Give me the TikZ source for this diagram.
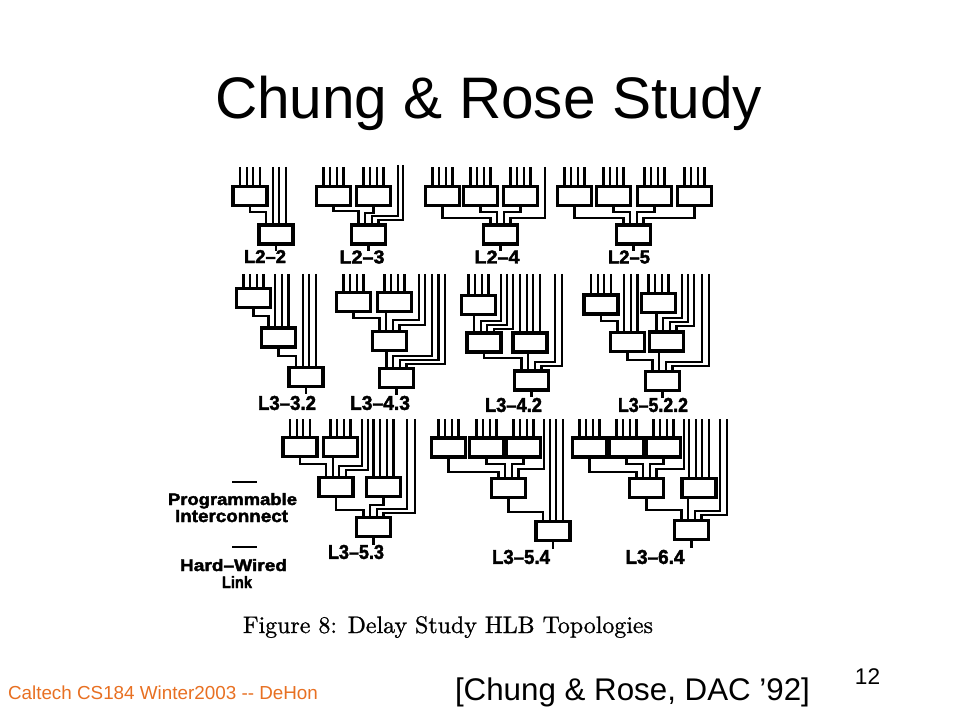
\documentclass[tikz,border=0pt]{standalone}
\usepackage{fontspec}
\usepackage{graphicx}
\newfontfamily\arial{Liberation Sans}
\newfontfamily\heavy{Liberation Sans}[BoldFeatures={FakeBold=2.2}]
\newfontfamily\capfont{lmroman10-regular}[Extension=.otf, FakeBold=0.9]
\newlength\mypx \setlength\mypx{0.75pt}
\definecolor{footorange}{RGB}{232,112,34}
\tikzset{
  lut/.style={draw=black, line width=2.6pt, minimum width=25.5pt, minimum height=14.25pt,
              inner sep=0pt, outer sep=0pt, fill=white},
  wire/.style={draw=black, line width=1.7pt, line cap=butt, line join=miter},
  txt/.style={inner sep=0pt, outer sep=0pt},
}
% box with four input stubs going up to y=#4
\newcommand\lutin[4]{%
  \node[lut] (#1) at (#2,#3) {};
  \foreach \dd in {-10,-3.33,3.33,10}{\draw[wire] (#1.north -| {#2+\dd},0) -- ({#2+\dd},#4);}%
}
\newcommand\lutbox[3]{\node[lut] (#1) at (#2,#3) {};}
% label: name, x, y, width px, height px, text
\newcommand\lab[6]{\node[txt] (#1) at (#2,#3) {\resizebox{#4\mypx}{#5\mypx}{\heavy\bfseries #6}};}
\begin{document}
\begin{tikzpicture}[x=0.75pt,y=-0.75pt]
\useasboundingbox (0,0) rectangle (960,720);
\fill[white] (0,0) rectangle (960,720);

% ---------- title ----------
\node[txt,anchor=base] (title) at (488.5,119)
  {\resizebox{547\mypx}{!}{\arial\fontsize{44}{50}\selectfont Chung \& Rose Study}};

% ================= ROW 1 =================
% L2-2
\lutin{a1}{250}{196}{167}
\lutbox{b1}{276}{234.5}
\draw[wire] (a1.south) |- (266,212) -- (266,0 |- b1.north);
\foreach \xx in {272.7,279.3,286}{\draw[wire] (\xx,167) -- (\xx,0 |- b1.north);}
\draw[wire] (b1.south) -- ++(0,7);
\lab{l1}{265}{256.5}{42}{13}{L2–2}

% L2-3
\lutin{a2}{333.5}{196}{167}
\lutin{c2}{373.5}{196}{167}
\lutbox{b2}{368.5}{234.5}
\draw[wire] (a2.south) |- (358.5,211) -- (358.5,0 |- b2.north);
\draw[wire] (c2.south) |- (365.2,213) -- (365.2,0 |- b2.north);
\draw[wire] (398,165) |- (371.8,216) -- (371.8,0 |- b2.north);
\draw[wire] (403,165) |- (378.5,220) -- (378.5,0 |- b2.north);
\draw[wire] (b2.south) -- ++(0,7);
\lab{l2}{362}{257}{45}{13}{L2–3}

% L2-4
\lutin{a3}{442.5}{196}{167}
\lutin{c3}{480.5}{196}{167}
\lutin{d3}{520.5}{196}{167}
\lutbox{b3}{500.5}{234.5}
\draw[wire] (a3.south) |- (490.5,218) -- (490.5,0 |- b3.north);
\draw[wire] (c3.south) |- (497.2,212) -- (497.2,0 |- b3.north);
\draw[wire] (d3.south) |- (503.8,212) -- (503.8,0 |- b3.north);
\draw[wire] (545,167) |- (510.5,218) -- (510.5,0 |- b3.north);
\draw[wire] (b3.south) -- ++(0,7);
\lab{l3}{497}{257}{45}{13}{L2–4}

% L2-5
\lutin{a4}{574.5}{196}{167}
\lutin{c4}{613.5}{196}{167}
\lutin{d4}{654.5}{196}{167}
\lutin{e4}{694.5}{196}{167}
\lutbox{b4}{633.5}{234.5}
\draw[wire] (a4.south) |- (623.5,218) -- (623.5,0 |- b4.north);
\draw[wire] (c4.south) |- (630.2,212) -- (630.2,0 |- b4.north);
\draw[wire] (d4.south) |- (636.8,212) -- (636.8,0 |- b4.north);
\draw[wire] (e4.south) |- (643.5,218) -- (643.5,0 |- b4.north);
\draw[wire] (b4.south) -- ++(0,7);
\lab{l4}{629}{257}{42}{13}{L2–5}

% ================= ROW 2 =================
% L3-3.2
\lutin{a5}{253.5}{298}{274}
\lutbox{b5}{278.5}{337.5}
\lutbox{c5}{306}{377}
\draw[wire] (a5.south) |- (268.5,316) -- (268.5,0 |- b5.north);
\foreach \xx in {275.2,281.8,288.5}{\draw[wire] (\xx,274) -- (\xx,0 |- b5.north);}
\draw[wire] (b5.south) |- (296,356) -- (296,0 |- c5.north);
\foreach \xx in {302.7,309.3,316}{\draw[wire] (\xx,274) -- (\xx,0 |- c5.north);}
\draw[wire] (c5.south) -- ++(0,7);
\lab{l5}{287}{403}{58}{14}{L3–3.2}

% L3-4.3
\lutin{a6}{353.5}{302}{274}
\lutin{c6}{394.5}{302}{274}
\lutbox{m6}{389.5}{341}
\lutbox{d6}{396.5}{378}
\draw[wire] (a6.south) |- (379.5,318) -- (379.5,0 |- m6.north);
\draw[wire] (386.2,0 |- c6.south) -- (386.2,0 |- m6.north);
\draw[wire] (419,274) |- (392.8,320) -- (392.8,0 |- m6.north);
\draw[wire] (425,274) |- (399.5,325) -- (399.5,0 |- m6.north);
\draw[wire] (386.5,0 |- m6.south) -- (386.5,0 |- d6.north);
\draw[wire] (432,274) |- (393.2,356) -- (393.2,0 |- d6.north);
\draw[wire] (438.5,274) |- (399.8,360) -- (399.8,0 |- d6.north);
\draw[wire] (445,274) |- (406.5,364) -- (406.5,0 |- d6.north);
\draw[wire] (d6.south) -- ++(0,7);
\lab{l6}{380}{403}{60}{14}{L3–4.3}

% L3-4.2
\lutin{a7}{478.5}{305}{274}
\lutbox{m7}{484}{342.5}
\lutin{c7}{530}{342.5}{274}
\lutbox{d7}{531.5}{380.5}
\draw[wire] (474,0 |- a7.south) -- (474,0 |- m7.north);
\draw[wire] (501,274) |- (480.7,321) -- (480.7,0 |- m7.north);
\draw[wire] (507,274) |- (487.3,325) -- (487.3,0 |- m7.north);
\draw[wire] (513,274) |- (494,329) -- (494,0 |- m7.north);
\draw[wire] (m7.south) |- (521.5,358) -- (521.5,0 |- d7.north);
\draw[wire] (528.2,0 |- c7.south) -- (528.2,0 |- d7.north);
\draw[wire] (555,274) |- (534.8,362) -- (534.8,0 |- d7.north);
\draw[wire] (562,274) |- (541.5,366) -- (541.5,0 |- d7.north);
\draw[wire] (d7.south) -- ++(0,7);
\lab{l7}{513.5}{405}{57}{14}{L3–4.2}

% L3-5.2.2
\lutin{a8}{601}{304.5}{274}
\lutbox{m8}{627.5}{342}
\lutin{c8}{658.5}{303}{274}
\lutbox{n8}{666.5}{341.5}
\lutbox{d8}{662.5}{381}
\draw[wire] (a8.south) |- (617.5,321) -- (617.5,0 |- m8.north);
\foreach \xx in {624.2,630.8,637.5}{\draw[wire] (\xx,274) -- (\xx,0 |- m8.north);}
\draw[wire] (656.5,0 |- c8.south) -- (656.5,0 |- n8.north);
\draw[wire] (682,274) |- (663.2,318) -- (663.2,0 |- n8.north);
\draw[wire] (688,274) |- (669.8,322) -- (669.8,0 |- n8.north);
\draw[wire] (694,274) |- (676.5,326) -- (676.5,0 |- n8.north);
\draw[wire] (m8.south) |- (652.5,360) -- (652.5,0 |- d8.north);
\draw[wire] (659.2,0 |- n8.south) -- (659.2,0 |- d8.north);
\draw[wire] (702,274) |- (665.8,362) -- (665.8,0 |- d8.north);
\draw[wire] (709,274) |- (672.5,366) -- (672.5,0 |- d8.north);
\draw[wire] (d8.south) -- ++(0,7);
\lab{l8}{653}{405}{70}{14}{L3–5.2.2}

% ================= ROW 3 =================
% L3-5.3
\lutin{a9}{300}{447}{419}
\lutin{c9}{340.5}{447}{419}
\lutbox{m9}{336}{487}
\lutin{n9}{383.5}{487}{419}
\lutbox{d9}{373.5}{527}
\draw[wire] (a9.south) |- (326,464) -- (326,0 |- m9.north);
\draw[wire] (332.7,0 |- c9.south) -- (332.7,0 |- m9.north);
\draw[wire] (362,419) |- (339.3,466) -- (339.3,0 |- m9.north);
\draw[wire] (368,419) |- (346,470) -- (346,0 |- m9.north);
\draw[wire] (m9.south) |- (363.5,510) -- (363.5,0 |- d9.north);
\draw[wire] (n9.south) |- (370.2,505) -- (370.2,0 |- d9.north);
\draw[wire] (407,419) |- (376.8,509) -- (376.8,0 |- d9.north);
\draw[wire] (415,419) |- (383.5,513) -- (383.5,0 |- d9.north);
\draw[wire] (d9.south) -- ++(0,8);
\lab{l9}{356}{552}{56}{14}{L3–5.3}

% L3-5.4
\lutin{a10}{448.5}{447.5}{419}
\lutin{c10}{486.5}{447.5}{419}
\lutin{e10}{523.5}{447.5}{419}
\lutbox{m10}{508.5}{488}
\lutbox{d10}{553}{531}
\draw[wire] (a10.south) |- (498.5,472) -- (498.5,0 |- m10.north);
\draw[wire] (c10.south) |- (505.2,464) -- (505.2,0 |- m10.north);
\draw[wire] (e10.south) |- (511.8,464) -- (511.8,0 |- m10.north);
\draw[wire] (544,419) |- (518.5,469) -- (518.5,0 |- m10.north);
\draw[wire] (m10.south) |- (543,512) -- (543,0 |- d10.north);
\foreach \xx in {549.7,556.3,563}{\draw[wire] (\xx,419) -- (\xx,0 |- d10.north);}
\draw[wire] (d10.south) -- ++(0,8);
\lab{l10}{521}{557}{58}{14}{L3–5.4}

% L3-6.4
\lutin{a11}{589.5}{447.5}{419}
\lutin{c11}{626.5}{447.5}{419}
\lutin{e11}{663.5}{447.5}{419}
\lutbox{m11}{646.5}{488}
\lutin{n11}{699}{488}{419}
\lutbox{d11}{691.5}{530}
\draw[wire] (a11.south) |- (636.5,472) -- (636.5,0 |- m11.north);
\draw[wire] (c11.south) |- (643.2,464) -- (643.2,0 |- m11.north);
\draw[wire] (e11.south) |- (649.8,464) -- (649.8,0 |- m11.north);
\draw[wire] (684,419) |- (656.5,469) -- (656.5,0 |- m11.north);
\draw[wire] (m11.south) |- (681.5,510) -- (681.5,0 |- d11.north);
\draw[wire] (688.2,0 |- n11.south) -- (688.2,0 |- d11.north);
\draw[wire] (720,419) |- (694.8,511) -- (694.8,0 |- d11.north);
\draw[wire] (727,419) |- (701.5,515) -- (701.5,0 |- d11.north);
\draw[wire] (d11.south) -- ++(0,8);
\lab{l11}{655}{557}{59}{14}{L3–6.4}

% ---------- legend ----------
\coordinate (pg1) at (232,482); \coordinate (pg2) at (257,482);
\draw[line width=0.8pt] (pg1) -- (pg2);
\node[txt,anchor=base] (lg1) at (232.5,505) {\resizebox{129\mypx}{12\mypx}{\heavy\bfseries Programmable}};
\node[txt,anchor=base] (lg2) at (231.5,522) {\resizebox{113\mypx}{12\mypx}{\heavy\bfseries Interconnect}};
\coordinate (hw1) at (232,547); \coordinate (hw2) at (257,547);
\draw[line width=1.6pt] (hw1) -- (hw2);
\node[txt,anchor=base] (lg3) at (233.5,571) {\resizebox{107\mypx}{12\mypx}{\heavy\bfseries Hard–Wired}};
\node[txt,anchor=base] (lg4) at (237,588) {\resizebox{30\mypx}{12\mypx}{\heavy\bfseries Link}};

% ---------- caption ----------
\node[txt,anchor=base] (cap) at (448,633)
  {\resizebox{410\mypx}{!}{\capfont\fontsize{16}{18}\selectfont Figure 8: Delay Study HLB Topologies}};

% ---------- footer ----------
\node[txt,anchor=base west] (foot) at (8,699)
  {\resizebox{310\mypx}{!}{\arial\fontsize{14}{16}\selectfont\color{footorange}Caltech CS184 Winter2003 -{}- DeHon}};
\node[txt,anchor=base] (cite) at (632.5,700)
  {\resizebox{355\mypx}{!}{\arial\fontsize{24}{28}\selectfont [Chung \& Rose, DAC ’92]}};
\node[txt,anchor=base] (pnum) at (867.5,684) {\arial\fontsize{17}{20}\selectfont 12};
\end{tikzpicture}
\end{document}
